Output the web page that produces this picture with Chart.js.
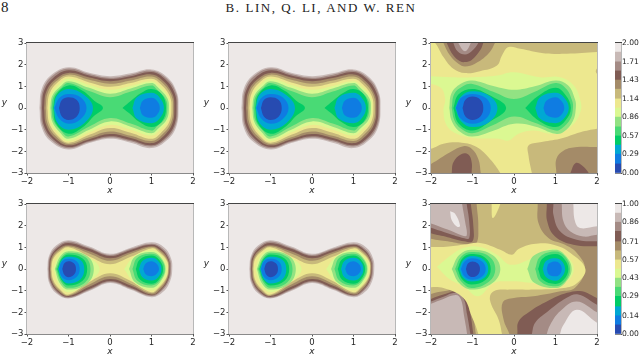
<!DOCTYPE html>
<html>
<head>
<meta charset="utf-8">
<script src="https://cdn.jsdelivr.net/npm/chart.js@4"></script>
<style>
  html, body { margin: 0; padding: 0; background: #fff; }
  body { position: relative; width: 640px; height: 356px; overflow: hidden; }
  canvas { position: absolute; filter: blur(.3px); }
  .head { position: absolute; font-family: "Liberation Serif", serif; color: #222; white-space: nowrap; }
</style>
</head>
<body>
<div class="head" style="left:1px;top:-1px;font-size:15px">8</div>
<div class="head" style="left:221px;top:0;width:200px;text-align:center;font-size:13px;letter-spacing:1.55px">B. LIN, Q. LI, AND W. REN</div>
<script>
// terrain colormap, one colour per contour band
const bandColors = [
  '#274bb1', '#0f7ce2', '#00a8d3', '#00cc66', '#49da75', '#92e283', '#dbf892',
  '#ede88f', '#c8b97b', '#a48b68', '#805c54', '#a48b85', '#c8b9b6', '#ede8e7'
];
const xTicks = [-2, -1, 0, 1, 2];
const yTicks = [-3, -2, -1, 0, 1, 2, 3];
const topLevels = [0, .14, .29, .43, .57, .71, .86, 1, 1.14, 1.29, 1.43, 1.57, 1.71, 1.86, 2];
const bottomLevels = [0, .07, .14, .21, .29, .36, .43, .5, .57, .64, .71, .79, .86, .93, 1];
const topBarTicks = [0, .29, .57, .86, 1.14, 1.43, 1.71, 2];
const bottomBarTicks = [0, .14, .29, .43, .57, .71, .86, 1];

// contour outlines: [band, [x, y, x, y, ...]], painted in order
const fullArea = [-3, -4, 3, -4, 3, 4, -3, 4];

const topWell = [
  [13, fullArea],
  [12, [-1.70,0, -1.65,.85, -1.43,1.5, -1,1.88, -.5,1.63, 0,1.47, .5,1.6, 1,1.78, 1.38,1.42, 1.61,.72, 1.65,0, 1.6,-.84, 1.38,-1.48, 1,-1.85, .5,-1.6, 0,-1.42, -.5,-1.62, -1,-1.92, -1.43,-1.54, -1.65,-.86]],
  [11, [-1.67,0, -1.62,.82, -1.40,1.46, -1,1.82, -.5,1.57, 0,1.40, .5,1.54, 1,1.72, 1.36,1.37, 1.59,.7, 1.63,0, 1.58,-.8, 1.36,-1.42, 1,-1.78, .5,-1.54, 0,-1.36, -.5,-1.57, -1,-1.86, -1.4,-1.49, -1.62,-.84]],
  [10, [-1.64,0, -1.59,.78, -1.37,1.39, -1,1.74, -.5,1.5, 0,1.34, .5,1.47, 1,1.66, 1.33,1.33, 1.56,.67, 1.6,0, 1.55,-.78, 1.33,-1.38, 1,-1.72, .5,-1.48, 0,-1.30, -.5,-1.52, -1,-1.8, -1.37,-1.44, -1.59,-.81]],
  [9, [-1.59,0, -1.54,.73, -1.33,1.3, -1,1.62, -.5,1.41, 0,1.24, .5,1.38, 1,1.55, 1.29,1.24, 1.51,.62, 1.55,0, 1.5,-.73, 1.29,-1.3, 1,-1.62, .5,-1.38, 0,-1.2, -.5,-1.44, -1,-1.72, -1.33,-1.38, -1.54,-.77]],
  [8, [-1.55,0, -1.5,.7, -1.3,1.23, -1,1.54, -.5,1.3, 0,1.12, .5,1.27, 1,1.45, 1.26,1.16, 1.48,.58, 1.52,0, 1.47,-.68, 1.26,-1.22, 1,-1.52, .5,-1.28, 0,-1.08, -.5,-1.35, -1,-1.66, -1.29,-1.33, -1.5,-.75]],
  [7, [-1.51,0, -1.46,.65, -1.27,1.16, -1,1.45, -.5,1.18, 0,.98, .5,1.15, 1,1.35, 1.23,1.08, 1.44,.54, 1.48,0, 1.43,-.64, 1.23,-1.14, 1,-1.42, .5,-1.14, 0,-.92, -.5,-1.24, -1,-1.6, -1.26,-1.28, -1.46,-.72]],
  [6, [-1.47,0, -1.42,.6, -1.23,1.08, -1,1.35, -.5,1.06, 0,.84, .5,1.02, 1,1.24, 1.2,.99, 1.41,.5, 1.45,0, 1.4,-.57, 1.2,-1.02, 1,-1.27, .5,-1.0, 0,-.78, -.5,-1.12, -1,-1.52, -1.22,-1.22, -1.42,-.68]],
  [5, [-1.44,0, -1.39,.56, -1.2,.99, -1,1.24, -.5,.93, 0,.66, .5,.9, 1,1.15, 1.17,.92, 1.38,.46, 1.42,0, 1.37,-.52, 1.17,-.93, 1,-1.16, .5,-.86, 0,-.62, -.5,-1.0, -1,-1.42, -1.2,-1.14, -1.39,-.64]],
  [4, [-1.41,0, -1.36,.52, -1.18,.92, -1,1.15, -.5,.78, 0,.5, .5,.76, 1,1.04, 1.14,.83, 1.34,.42, 1.38,0, 1.33,-.47, 1.14,-.83, 1,-1.04, .5,-.72, 0,-.46, -.5,-.85, -1,-1.31, -1.18,-1.05, -1.36,-.59]],
  [3, [-1.37,0, -1.3,.6, -1,1.04, -.65,.78, -.38,.33, -.17,0, -.38,-.36, -.65,-.88, -1,-1.19, -1.3,-.72]],
  [3, [.3,0, .5,.32, .74,.68, 1,.88, 1.25,.62, 1.35,0, 1.25,-.62, 1,-.88, .7,-.64, .48,-.27]],
  [2, [-1.36,0, -1.27,.6, -1,.88, -.62,.6, -.41,0, -.62,-.7, -1,-1.0, -1.27,-.68]],
  [2, [.54,0, .65,.5, 1,.7, 1.19,.5, 1.3,0, 1.19,-.5, 1,-.7, .65,-.5]],
  [1, [-1.34,0, -1.22,.46, -1,.65, -.71,.5, -.565,0, -.71,-.52, -1,-.73, -1.22,-.5]],
  [1, [.72,0, .79,.33, 1,.47, 1.13,.33, 1.2,0, 1.13,-.32, 1,-.45, .79,-.33]],
  [0, [-1.23,0, -1.16,.37, -1,.5, -.8,.37, -.73,0, -.8,-.39, -1,-.55, -1.16,-.39]]
];

const bottomWell = [
  [13, fullArea],
  [12, [-1.51,0, -1.47,.6, -1.3,1.08, -1,1.33, -.5,1.04, 0,.7, .5,.98, 1,1.23, 1.3,1.0, 1.47,.5, 1.5,0, 1.45,-.55, 1.28,-1.05, 1,-1.3, .5,-.96, 0,-.65, -.5,-1.02, -1,-1.36, -1.3,-1.12, -1.47,-.62]],
  [11, [-1.49,0, -1.45,.58, -1.28,1.03, -1,1.27, -.5,.98, 0,.65, .5,.93, 1,1.17, 1.27,.95, 1.44,.48, 1.47,0, 1.42,-.53, 1.25,-1.0, 1,-1.25, .5,-.91, 0,-.6, -.5,-.97, -1,-1.33, -1.28,-1.08, -1.45,-.6]],
  [10, [-1.47,0, -1.43,.55, -1.26,.98, -1,1.2, -.5,.93, 0,.6, .5,.88, 1,1.12, 1.25,.9, 1.41,.46, 1.44,0, 1.4,-.5, 1.23,-.97, 1,-1.21, .5,-.86, 0,-.55, -.5,-.92, -1,-1.29, -1.26,-1.05, -1.43,-.57]],
  [9, [-1.45,0, -1.41,.52, -1.24,.92, -1,1.1, -.5,.82, 0,.5, .5,.79, 1,1.05, 1.23,.85, 1.4,.43, 1.43,0, 1.38,-.48, 1.22,-.93, 1,-1.18, .5,-.76, 0,-.46, -.5,-.82, -1,-1.25, -1.24,-1.02, -1.41,-.55]],
  [8, [-1.43,0, -1.39,.49, -1.22,.87, -1,1.05, -.5,.72, 0,.38, .5,.7, 1,1, 1.21,.81, 1.38,.41, 1.41,0, 1.36,-.46, 1.2,-.88, 1,-1.12, .5,-.68, 0,-.34, -.5,-.72, -1,-1.22, -1.22,-.98, -1.39,-.53]],
  [7, [-1.41,0, -1.37,.46, -1.2,.82, -1,1.0, -.5,.58, 0,.22, .5,.56, 1,.95, 1.19,.76, 1.37,.38, 1.4,0, 1.35,-.43, 1.18,-.84, 1,-1.07, .5,-.55, 0,-.2, -.5,-.6, -1,-1.18, -1.2,-.95, -1.37,-.5]],
  [6, [-1.37,0, -1.23,.62, -1,.9, -.6,.64, -.25,0, -.6,-.7, -1,-1.07, -1.23,-.72]],
  [6, [.34,0, .58,.58, 1,.86, 1.25,.6, 1.37,0, 1.25,-.64, 1,-.98, .58,-.62]],
  [5, [-1.33,0, -1.2,.58, -1,.82, -.55,.6, -.39,0, -.55,-.68, -1,-.95, -1.2,-.68]],
  [5, [.46,0, .6,.56, 1,.78, 1.21,.56, 1.34,0, 1.21,-.6, 1,-.87, .6,-.6]],
  [4, [-1.3,0, -1.17,.53, -1,.75, -.6,.55, -.47,0, -.6,-.62, -1,-.87, -1.17,-.62]],
  [4, [.54,0, .66,.52, 1,.7, 1.2,.52, 1.32,0, 1.2,-.53, 1,-.76, .66,-.54]],
  [3, [-1.27,0, -1.16,.48, -1,.67, -.66,.48, -.55,0, -.66,-.54, -1,-.76, -1.16,-.54]],
  [3, [.62,0, .72,.44, 1,.62, 1.18,.44, 1.28,0, 1.18,-.48, 1,-.68, .72,-.48]],
  [2, [-1.25,0, -1.16,.42, -1,.56, -.71,.42, -.62,0, -.71,-.47, -1,-.67, -1.16,-.47]],
  [2, [.7,0, .78,.37, 1,.52, 1.16,.37, 1.24,0, 1.16,-.38, 1,-.53, .78,-.38]],
  [1, [-1.23,0, -1.16,.35, -1,.47, -.8,.35, -.73,0, -.8,-.36, -1,-.52, -1.16,-.36]],
  [1, [.8,0, .86,.25, 1,.36, 1.12,.25, 1.18,0, 1.12,-.23, 1,-.33, .86,-.24]],
  [0, [-1.15,0, -1.1,.26, -1,.36, -.87,.26, -.82,0, -.87,-.27, -1,-.38, -1.1,-.27]]
];

const topError = [
  [7, fullArea],
  [8, [-2.1,3.3, -1.9,3, -1.7,2.35, -1.46,1.81, -1.18,1.61, -.82,1.7, -.41,1.96, -.29,2.42, -.13,2.81, .15,2.73, .71,2.53, 1.27,2.5, 2,2.58, 2.3,2.6, 2.3,3.3]],
  [9, [-1.75,3.3, -1.7,3, -1.54,2.42, -1.34,2.04, -1.18,1.92, -.94,2.04, -.62,2.5, -.46,3, -.42,3.3]],
  [10, [-1.66,3.3, -1.62,3, -1.46,2.42, -1.3,2.16, -1.18,2.12, -1.02,2.22, -.82,2.65, -.74,3, -.7,3.3]],
  [11, [-1.5,3.3, -1.46,3, -1.36,2.62, -1.18,2.47, -1.02,2.62, -.86,3, -.8,3.3]],
  [12, [-1.38,3.3, -1.34,3, -1.18,2.62, -1.04,3, -1,3.3]],
  [8, [-2.3,-3.3, -2.3,-1.9, -2,-1.88, -1.7,-1.65, -1.26,-1.6, -.9,-1.8, -.58,-2.35, -.33,-3, -.28,-3.3]],
  [9, [-2.3,-3.3, -2.3,-2.85, -2,-2.58, -1.54,-2.04, -1.22,-1.76, -1.02,-1.88, -.86,-2.35, -.8,-3, -.78,-3.3]],
  [10, [-1.52,-3.3, -1.5,-3, -1.46,-2.5, -1.26,-2.12, -1.1,-2.15, -1.02,-2.5, -1.02,-3, -1.02,-3.3]],
  [8, [.45,-3.3, .43,-3, .35,-2.2, .35,-1.73, .63,-1.58, 1.11,-1.42, 1.6,-1.12, 2,-.96, 2.3,-.9, 2.3,-3.3]],
  [9, [1.02,-3.3, 1.02,-3, 1.02,-2.35, 1.2,-1.96, 1.52,-1.8, 2,-1.8, 2.3,-1.8, 2.3,-3.3]],
  [10, [1.3,-3.3, 1.36,-3, 1.48,-2.55, 1.64,-2.65, 1.8,-3, 1.85,-3.3]],
  [8, [2.1,2.0, 1.97,1.7, 2.1,1.45]],
  [6, [-2.3,1.5, -1.5,1.42, -.98,1.42, -.41,1.5, -.01,1.65, .63,1.42, 1.11,1.42, 1.44,1.04, 1.6,.35, 1.6,-.19, 1.36,-.88, .95,-1.19, .47,-1.04, .11,-1.19, -.13,-1.5, -.37,-1.42, -.98,-1.38, -1.38,-1.19, -1.62,-.81, -1.7,-.12, -1.66,.42, -1.78,.96, -2.3,1.25]],
  [5, [-1.56,0, -1.5,.7, -1.25,1.15, -1,1.27, -.5,1.02, 0,.84, .5,1.0, 1,1.27, 1.3,1.05, 1.47,.4, 1.49,0, 1.42,-.6, 1.2,-1.1, 1,-1.19, .5,-.85, 0,-.73, -.5,-1.05, -1,-1.32, -1.3,-1.1, -1.5,-.6]],
  [4, [-1.5,0, -1.44,.65, -1.22,1.02, -1,1.11, -.5,.75, 0,.42, .5,.75, 1,1.15, 1.25,.9, 1.4,.35, 1.42,0, 1.36,-.5, 1.15,-.95, 1,-1.04, .5,-.68, 0,-.39, -.5,-.78, -1,-1.16, -1.28,-.95, -1.44,-.55]],
  [3, [-1.46,0, -1.34,.62, -1,.88, -.62,.62, -.19,0, -.62,-.68, -1,-1.04, -1.34,-.7]],
  [3, [.27,0, .58,.55, 1,.93, 1.24,.6, 1.37,0, 1.24,-.58, 1,-.88, .58,-.56]],
  [2, [-1.42,0, -1.27,.54, -1,.77, -.58,.54, -.4,0, -.58,-.62, -1,-.88, -1.27,-.62]],
  [2, [.51,0, .63,.5, 1,.7, 1.2,.5, 1.32,0, 1.2,-.5, 1,-.7, .63,-.5]],
  [1, [-1.4,0, -1.28,.46, -1,.65, -.68,.46, -.56,0, -.68,-.5, -1,-.73, -1.28,-.5]],
  [1, [.71,0, .78,.33, 1,.5, 1.14,.33, 1.21,0, 1.14,-.31, 1,-.45, .78,-.31]],
  [0, [-1.24,0, -1.17,.38, -1,.53, -.81,.38, -.74,0, -.81,-.39, -1,-.55, -1.17,-.39]]
];

const bottomError = [
  [8, fullArea],
  [9, [.57,3.3, .57,3, .59,2.12, .83,1.43, 1.23,1.12, 1.51,.75, 1.71,0, 1.47,-.86, 1.12,-1.03, .47,-1.26, 0,-1.34, -.27,-1.54, -.25,-2.34, -.11,-3, -.08,-3.3, 2.3,-3.3, 2.3,3.3]],
  [10, [.79,3.3, .79,3, .8,2.2, .99,1.5, 1.43,1.12, 2,1.05, 2.3,1.05, 2.3,3.3]],
  [11, [.95,3.3, .95,3, .95,2.5, 1.11,1.74, 1.51,1.35, 2,1.28, 2.3,1.28, 2.3,3.3]],
  [12, [1.15,3.3, 1.15,3, 1.19,2.2, 1.35,1.74, 1.67,1.5, 2,1.58, 2.3,1.6, 2.3,3.3]],
  [13, [1.43,3.3, 1.43,3, 1.47,2.2, 1.59,1.89, 2,1.97, 2.3,2, 2.3,3.3]],
  [10, [.06,-3.3, .08,-3, .11,-2.42, .39,-1.95, .79,-1.5, 1.28,-1.1, 1.64,-1.03, 2,-1.34, 2.3,-1.5, 2.3,-3.3]],
  [11, [.4,-3.3, .43,-3, .51,-2.48, .79,-2, 1.27,-1.33, 1.55,-1.18, 2,-1.65, 2.3,-1.9, 2.3,-3.3]],
  [12, [.76,-3.3, .79,-3, .87,-2.58, 1.11,-1.95, 1.51,-1.5, 2,-2, 2.3,-2.3, 2.3,-3.3]],
  [13, [1.08,-3.3, 1.11,-3, 1.19,-2.58, 1.51,-1.88, 2,-2.48, 2.3,-2.8, 2.3,-3.3]],
  [9, [-2.3,1.6, -2,1.4, -1.6,1.28, -1.2,1.15, -.92,1.15, -.86,2, -.9,3, -.9,3.3, -2.3,3.3]],
  [10, [-2.3,1.85, -2,1.65, -1.6,1.47, -1.2,1.28, -1.0,1.28, -.98,2, -1.04,3, -1.05,3.3, -2.3,3.3]],
  [11, [-2.3,2.1, -2,1.9, -1.6,1.65, -1.2,1.42, -1.08,1.42, -1.08,2.2, -1.14,3, -1.16,3.3, -2.3,3.3]],
  [12, [-2.3,2.3, -2,2.1, -1.6,1.82, -1.25,1.55, -1.14,1.55, -1.18,2.2, -1.25,3, -1.27,3.3, -2.3,3.3]],
  [13, [-1.54,2.66, -1.42,2.55, -1.3,2.0, -1.36,1.94, -1.5,2.25]],
  [9, [-2.3,-1.35, -2,-1.15, -1.7,-1.03, -1.35,-.93, -1.12,-1.22, -1.0,-1.95, -.92,-3, -.9,-3.3, -2.3,-3.3]],
  [10, [-2.3,-1.6, -2,-1.38, -1.7,-1.18, -1.38,-1.03, -1.17,-1.3, -1.06,-2, -.98,-3, -.96,-3.3, -2.3,-3.3]],
  [11, [-2.3,-1.75, -2,-1.5, -1.7,-1.28, -1.4,-1.1, -1.22,-1.35, -1.13,-2.1, -1.05,-3, -1.03,-3.3, -2.3,-3.3]],
  [12, [-2.3,-1.85, -2,-1.6, -1.7,-1.38, -1.4,-1.2, -1.28,-1.4, -1.2,-2.2, -1.13,-3, -1.12,-3.3, -2.3,-3.3]],
  [7, [-.54,3.3, -.54,3, -.51,2.35, -.33,3, -.33,3.3]],
  [7, [-2.3,1.02, -1.7,1.02, -1.22,1.12, -.82,1.2, -.33,.89, -.05,.66, .11,.92, .47,1.15, .95,1.12, 1.36,.74, 1.72,0, 1.52,-.65, 1.2,-.88, .47,-.95, -.09,-.95, -.49,-1.03, -.58,-1.42, -.37,-2.34, -.29,-3, -.28,-3.3, -.87,-3.3, -.86,-3, -1.02,-2.18, -1.22,-1.34, -1.7,-.88, -2.3,-.68]],
  [6, [-1.86,.1, -1.5,.66, -1.22,.97, -.82,1.02, -.41,.66, -.09,.2, .35,.43, .63,.74, .99,.92, 1.32,.5, 1.44,0, 1.32,-.49, .99,-.72, .47,-.65, -.09,-.57, -.49,-.65, -.86,-1.26, -1.22,-.8, -1.54,-.49]],
  [5, [-1.5,0, -1.32,.65, -1.02,.89, -.52,.65, -.33,0, -.52,-.65, -1.02,-.95, -1.32,-.65]],
  [5, [.32,0, .48,.62, 1,.89, 1.24,.62, 1.39,0, 1.24,-.62, 1,-.88, .48,-.62]],
  [4, [-1.42,0, -1.27,.58, -1.02,.78, -.6,.58, -.45,0, -.6,-.58, -1.02,-.88, -1.27,-.58]],
  [4, [.51,0, .63,.57, 1,.81, 1.23,.57, 1.35,0, 1.23,-.57, 1,-.8, .63,-.57]],
  [3, [-1.36,0, -1.24,.5, -1.02,.69, -.68,.5, -.56,0, -.68,-.5, -1.02,-.72, -1.24,-.5]],
  [3, [.58,0, .69,.49, 1,.69, 1.2,.49, 1.31,0, 1.2,-.49, 1,-.69, .69,-.49]],
  [2, [-1.32,0, -1.22,.42, -1,.6, -.72,.42, -.62,0, -.72,-.42, -1.02,-.58, -1.22,-.42]],
  [2, [.69,0, .77,.37, 1,.5, 1.15,.37, 1.23,0, 1.15,-.37, 1,-.54, .77,-.37]],
  [1, [-1.28,0, -1.19,.35, -1,.5, -.77,.35, -.68,0, -.77,-.35, -1,-.5, -1.19,-.35]],
  [1, [.79,0, .84,.25, 1,.35, 1.1,.25, 1.15,0, 1.1,-.25, 1,-.34, .84,-.25]],
  [0, [-1.16,0, -1.11,.25, -1,.35, -.87,.25, -.82,0, -.87,-.26, -1,-.37, -1.11,-.26]]
];

const plotWidth = 166;
const plotHeight = 130;
const padTop = 8;
const padRight = 8;
const axisWidth = 27;
const axisHeight = 23;
const tickFont = { family: '"DejaVu Sans"', size: 8.5 };
const textColor = '#262626';

function addCanvas (left, top, width, height) {
  const canvas = document.createElement('canvas');
  canvas.width = width;
  canvas.height = height;
  canvas.style.left = left + 'px';
  canvas.style.top = top + 'px';
  canvas.style.width = width + 'px';
  canvas.style.height = height + 'px';
  document.body.appendChild(canvas);
  return canvas;
}

// frame round the plot: dark on top, pale at the sides, as in the source image
const spinesPlugin = {
  id: 'spines',
  afterDraw (chart) {
    const { ctx, chartArea: a } = chart;
    const edge = (x0, y0, x1, y1, color) => {
      ctx.strokeStyle = color;
      ctx.lineWidth = 1;
      ctx.beginPath();
      ctx.moveTo(x0, y0);
      ctx.lineTo(x1, y1);
      ctx.stroke();
    };
    edge(a.left - .5, a.top, a.left - .5, a.bottom, '#b8b8b8');
    edge(a.right + .5, a.top, a.right + .5, a.bottom, '#b8b8b8');
    edge(a.left, a.bottom + .5, a.right, a.bottom + .5, '#8a8a8a');
    edge(a.left - 1, a.top - .5, a.right + 1, a.top - .5, '#444');
  }
};

const yLabelPlugin = {
  id: 'yLabel',
  afterDraw (chart) {
    const { ctx, chartArea: a } = chart;
    ctx.save();
    ctx.font = 'italic 9px "DejaVu Sans"';
    ctx.fillStyle = textColor;
    ctx.textAlign = 'center';
    ctx.textBaseline = 'middle';
    ctx.fillText('y', a.left - 22.5, (a.top + a.bottom) / 2 - 5);
    ctx.restore();
  }
};

function toDataset ([band, flat]) {
  const data = [];
  for (let i = 0; i < flat.length; i += 2) {
    data.push({ x: flat[i], y: flat[i + 1] });
  }
  data.push(data[0]);
  return {
    data,
    showLine: true,
    fill: 'shape',
    backgroundColor: bandColors[band],
    borderWidth: 0,
    pointRadius: 0,
    capBezierPoints: false,
    tension: flat === fullArea ? 0 : 0.4
  };
}

function tickAxis (ticks, extra) {
  return Object.assign({
    min: ticks[0],
    max: ticks[ticks.length - 1],
    afterBuildTicks: scale => { scale.ticks = ticks.map(value => ({ value })); },
    border: { display: false },
    grid: { drawOnChartArea: false, tickLength: 2.5, color: '#555' },
    ticks: {
      autoSkip: false,
      maxRotation: 0,
      padding: 1,
      font: tickFont,
      color: textColor,
      callback: value => String(value).replace('-', '\u2212')
    }
  }, extra);
}

function drawPanel (rings, plotLeft, plotTop) {
  const canvas = addCanvas(
    plotLeft - axisWidth,
    plotTop - padTop,
    axisWidth + plotWidth + padRight,
    padTop + plotHeight + axisHeight
  );
  new Chart(canvas, {
    type: 'scatter',
    // first dataset is drawn on top in Chart.js, so feed the outlines back to front
    data: { datasets: rings.map(toDataset).reverse() },
    options: {
      responsive: false,
      animation: false,
      events: [],
      layout: { padding: { top: padTop, right: padRight } },
      plugins: { legend: { display: false }, tooltip: { enabled: false } },
      scales: {
        x: tickAxis(xTicks, {
          afterFit: scale => { scale.height = axisHeight; },
          title: {
            display: true,
            text: 'x',
            color: textColor,
            padding: 0,
            font: { family: '"DejaVu Sans"', size: 9, style: 'italic' }
          }
        }),
        y: tickAxis(yTicks, {
          afterFit: scale => { scale.width = axisWidth; }
        })
      }
    },
    plugins: [spinesPlugin, yLabelPlugin]
  });
}

function drawColorbar (levels, barTicks, plotTop) {
  const canvas = addCanvas(615, plotTop - padTop, 25, padTop + plotHeight + padTop);
  new Chart(canvas, {
    type: 'bar',
    data: {
      labels: [''],
      datasets: bandColors.map((color, i) => ({
        data: [[levels[i], levels[i + 1]]],
        backgroundColor: color,
        grouped: false,
        barPercentage: 1,
        categoryPercentage: 1
      }))
    },
    options: {
      responsive: false,
      animation: false,
      events: [],
      layout: { padding: { top: padTop, bottom: padTop } },
      plugins: { legend: { display: false }, tooltip: { enabled: false } },
      scales: {
        x: { display: false },
        y: tickAxis(barTicks, {
          position: 'right',
          afterFit: scale => { scale.width = 19; },
          grid: { drawOnChartArea: false, tickLength: 1, color: '#555' },
          ticks: {
            autoSkip: false,
            padding: 0,
            font: { family: '"DejaVu Sans"', size: 7.6 },
            color: textColor,
            callback: value => value.toFixed(2)
          }
        })
      }
    },
    plugins: [spinesPlugin]
  });
}

drawPanel(topWell, 27, 43);
drawPanel(topWell, 229, 43);
drawPanel(topError, 431, 43);
drawPanel(bottomWell, 27, 204);
drawPanel(bottomWell, 229, 204);
drawPanel(bottomError, 431, 204);
drawColorbar(topLevels, topBarTicks, 43);
drawColorbar(bottomLevels, bottomBarTicks, 204);
</script>
</body>
</html>
